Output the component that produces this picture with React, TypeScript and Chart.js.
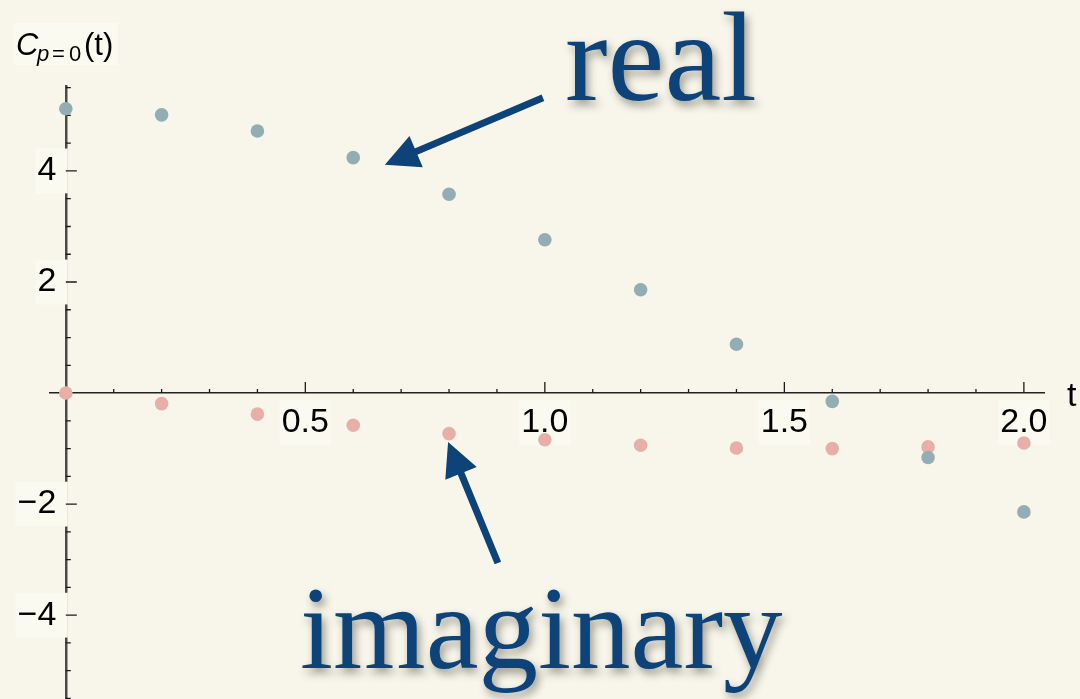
import React, { useEffect, useRef } from 'react';
import { Chart, registerables } from 'chart.js';

Chart.register(...registerables);

// Sample times and the two parts of the correlator C_{p=0}(t)
const timeValues = [0, 0.2, 0.4, 0.6, 0.8, 1.0, 1.2, 1.4, 1.6, 1.8, 2.0];
const realPart = [5.12, 5.01, 4.72, 4.24, 3.58, 2.76, 1.86, 0.88, -0.15, -1.16, -2.14];
const imagPart = [0, -0.19, -0.38, -0.58, -0.73, -0.84, -0.94, -0.99, -1.0, -0.97, -0.9];

// Labelled axis ticks
const xTickValues = [0.5, 1.0, 1.5, 2.0];
const xTickLabels = ['0.5', '1.0', '1.5', '2.0'];
const yTickValues = [-4, -2, 2, 4];
const yTickLabels = ['\u22124', '\u22122', '2', '4'];

const seriesNames = ['real', 'imaginary'];
const xAxisTitle = 't';
const yAxisTitleParts = { main: 'C', sub: ['p', '=', '0'], tail: '(t)' };

const BG = '#f8f6ea';
const HALO = '#fbfaf0';
const INK = '#0d4379';
const SANS = '"Liberation Sans", Arial, Helvetica, sans-serif';
const SERIF = '"Liberation Serif", "Times New Roman", serif';

// Callout texts and arrows, placed in data units
const callouts = [
  { text: seriesNames[0], size: 128, at: [1.042, 5.28], from: [0.996, 5.32], to: [0.666, 4.11] },
  { text: seriesNames[1], size: 119, at: [0.489, -4.95], from: [0.902, -3.06], to: [0.798, -0.88] },
];

function drawArrow(ctx: CanvasRenderingContext2D, x1: number, y1: number, x2: number, y2: number) {
  const dx = x2 - x1;
  const dy = y2 - y1;
  const len = Math.hypot(dx, dy);
  const ux = dx / len;
  const uy = dy / len;
  const headLen = 34;
  const halfW = 17;
  const bx = x2 - ux * headLen;
  const by = y2 - uy * headLen;
  ctx.save();
  ctx.strokeStyle = INK;
  ctx.fillStyle = INK;
  ctx.lineWidth = 7;
  ctx.lineCap = 'butt';
  ctx.beginPath();
  ctx.moveTo(x1, y1);
  ctx.lineTo(bx + ux * 4, by + uy * 4);
  ctx.stroke();
  ctx.beginPath();
  ctx.moveTo(x2, y2);
  ctx.lineTo(bx - uy * halfW, by + ux * halfW);
  ctx.lineTo(bx + uy * halfW, by - ux * halfW);
  ctx.closePath();
  ctx.fill();
  ctx.restore();
}

const plotDecor = {
  id: 'plotDecor',
  beforeDraw(chart: any) {
    const { ctx, width, height } = chart;
    ctx.save();
    ctx.fillStyle = BG;
    ctx.fillRect(0, 0, width, height);
    ctx.restore();
  },
  beforeDatasetsDraw(chart: any) {
    const { ctx } = chart;
    const xs = chart.scales.x;
    const ys = chart.scales.y;
    const x0 = xs.getPixelForValue(0);
    const y0 = ys.getPixelForValue(0);
    ctx.save();
    ctx.strokeStyle = '#1a1a1a';
    ctx.lineWidth = 1.3;
    ctx.beginPath();
    // ticks along t: every 0.1, longer at the labelled ones
    for (let i = 1; i <= 20; i++) {
      const px = xs.getPixelForValue(i / 10);
      const len = i % 5 === 0 ? 11 : 4;
      ctx.moveTo(px, y0);
      ctx.lineTo(px, y0 - len);
    }
    // ticks along the value axis: every 0.5, longer at the labelled ones
    for (let i = -11; i <= 11; i++) {
      if (i === 0) continue;
      const py = ys.getPixelForValue(i / 2);
      const len = i % 4 === 0 ? 11 : 5;
      ctx.moveTo(x0, py);
      ctx.lineTo(x0 + len, py);
    }
    ctx.stroke();
    ctx.restore();
  },
  afterDraw(chart: any) {
    const { ctx } = chart;
    const xs = chart.scales.x;
    const ys = chart.scales.y;

    // value-axis title C_{p=0}(t)
    ctx.save();
    ctx.fillStyle = HALO;
    ctx.fillRect(13, 23, 105, 42);
    ctx.fillStyle = '#000';
    ctx.textBaseline = 'alphabetic';
    ctx.textAlign = 'left';
    ctx.font = `italic 31px ${SANS}`;
    ctx.fillText(yAxisTitleParts.main, 16, 55);
    ctx.font = `italic 22px ${SANS}`;
    ctx.fillText(yAxisTitleParts.sub[0], 37, 61);
    ctx.font = `22px ${SANS}`;
    ctx.fillText(yAxisTitleParts.sub[1], 52, 61);
    ctx.fillText(yAxisTitleParts.sub[2], 69, 61);
    ctx.font = `31px ${SANS}`;
    ctx.fillText(yAxisTitleParts.tail, 84, 55);

    // t-axis title
    ctx.font = `34px ${SANS}`;
    ctx.fillText(xAxisTitle, 1067, 406);
    ctx.restore();

    // callouts
    for (const c of callouts) {
      drawArrow(
        ctx,
        xs.getPixelForValue(c.from[0]), ys.getPixelForValue(c.from[1]),
        xs.getPixelForValue(c.to[0]), ys.getPixelForValue(c.to[1])
      );
      ctx.save();
      ctx.font = `${c.size}px ${SERIF}`;
      ctx.fillStyle = INK;
      ctx.textAlign = 'left';
      ctx.textBaseline = 'alphabetic';
      ctx.shadowColor = 'rgba(40, 40, 30, 0.45)';
      ctx.shadowBlur = 9;
      ctx.shadowOffsetX = 3;
      ctx.shadowOffsetY = 5;
      ctx.fillText(c.text, xs.getPixelForValue(c.at[0]), ys.getPixelForValue(c.at[1]));
      ctx.restore();
    }
  },
};

export default function App() {
  const canvasRef = useRef<HTMLCanvasElement>(null);

  useEffect(() => {
    const canvas = canvasRef.current;
    if (!canvas) return;
    const chart = new Chart(canvas, {
      type: 'scatter',
      data: {
        datasets: [
          {
            label: seriesNames[0],
            data: timeValues.map((t, i) => ({ x: t, y: realPart[i] })),
            backgroundColor: '#93adb2',
            borderWidth: 0,
            pointRadius: 6.8,
          },
          {
            label: seriesNames[1],
            data: timeValues.map((t, i) => ({ x: t, y: imagPart[i] })),
            backgroundColor: '#e8afa8',
            borderWidth: 0,
            pointRadius: 6.8,
          },
        ],
      },
      options: {
        animation: false,
        responsive: false,
        devicePixelRatio: 1,
        layout: { autoPadding: false, padding: { left: 50, right: 36, top: 86, bottom: 0 } },
        plugins: {
          legend: { display: false },
          tooltip: { enabled: false },
        },
        scales: {
          x: {
            type: 'linear',
            position: { y: 0 } as any,
            min: -0.033,
            max: 2.042,
            afterBuildTicks: (scale: any) => {
              scale.ticks = xTickValues.map((v) => ({ value: v }));
            },
            afterFit: (scale: any) => {
              scale.paddingLeft = 0;
              scale.paddingRight = 0;
            },
            grid: { display: false, drawTicks: false },
            border: { display: true, color: '#222', width: 1.5 },
            ticks: {
              autoSkip: false,
              maxRotation: 0,
              padding: 9,
              color: '#000',
              font: { family: SANS, size: 34 },
              showLabelBackdrop: true,
              backdropColor: HALO,
              backdropPadding: 2,
              callback: (value: any) => {
                const idx = xTickValues.indexOf(Number(value));
                return idx >= 0 ? xTickLabels[idx] : '';
              },
            },
          },
          y: {
            type: 'linear',
            position: { x: 0 } as any,
            min: -5.51,
            max: 5.53,
            afterBuildTicks: (scale: any) => {
              scale.ticks = yTickValues.map((v) => ({ value: v }));
            },
            afterFit: (scale: any) => {
              scale.paddingTop = 0;
              scale.paddingBottom = 0;
            },
            grid: { display: false, drawTicks: false },
            border: { display: true, color: '#4a4a4a', width: 2.5 },
            ticks: {
              autoSkip: false,
              color: '#000',
              font: { family: SANS, size: 34 },
              showLabelBackdrop: true,
              backdropColor: HALO,
              backdropPadding: 2,
              callback: (value: any) => {
                const idx = yTickValues.indexOf(Number(value));
                return idx >= 0 ? yTickLabels[idx] + ' ' : '';
              },
            },
          },
        },
      },
      plugins: [plotDecor],
    });
    return () => chart.destroy();
  }, []);

  return (
    <div style={{ position: 'fixed', left: 0, top: 0, width: 1080, height: 699, background: BG }}>
      <canvas ref={canvasRef} width={1080} height={699} style={{ display: 'block' }} />
    </div>
  );
}
